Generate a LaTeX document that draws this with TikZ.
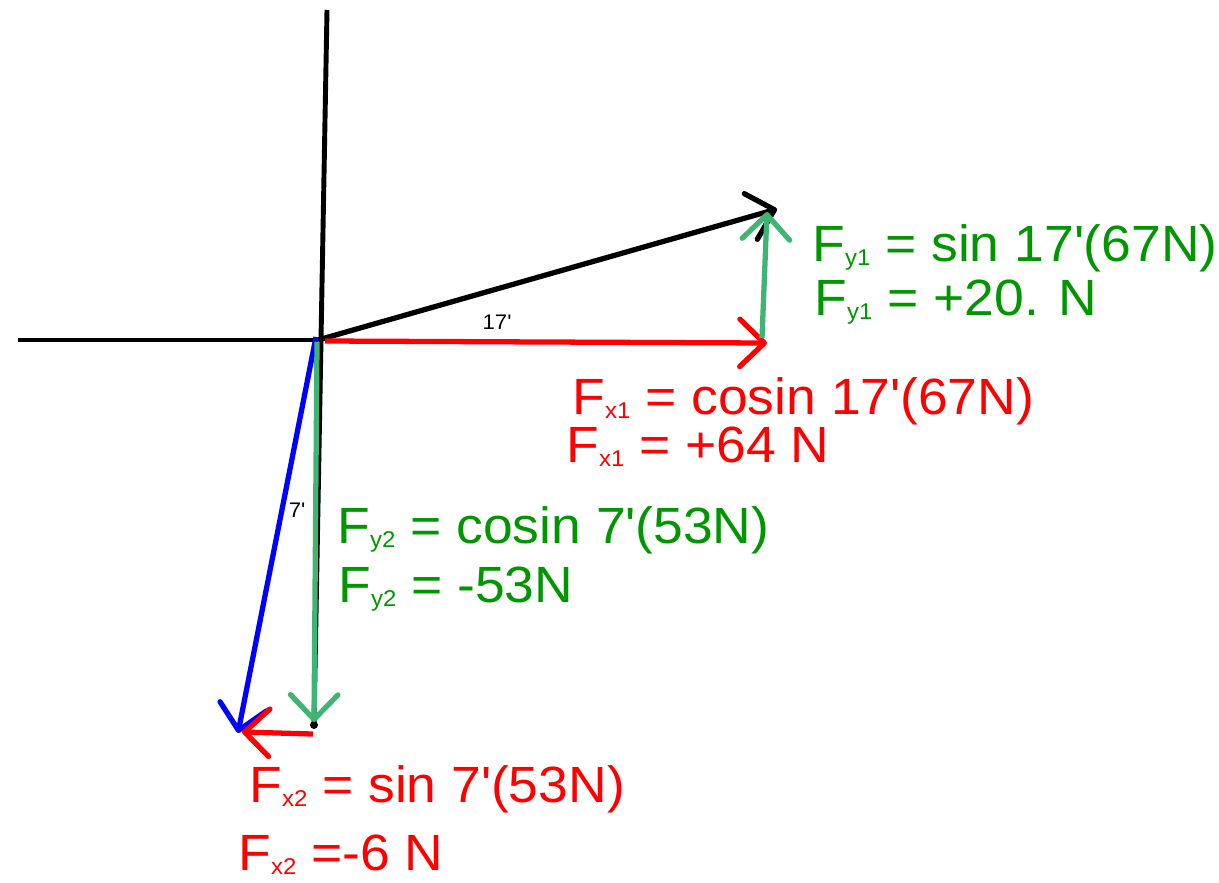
\documentclass[tikz,border=0pt]{standalone}
\usepackage{fontspec}
\setmainfont[FakeStretch=1.05]{Liberation Sans}
\usetikzlibrary{arrows.meta}
\definecolor{fgreen}{RGB}{0,150,0}
\definecolor{agreen}{RGB}{64,180,115}
\newcommand{\fsub}[1]{{\fontsize{13}{13}\selectfont\raisebox{-2.5pt}{#1}}}
\newcommand{\qt}{\textquotesingle}
\begin{document}
\begin{tikzpicture}[x=0.02cm,y=-0.02cm,
  axis/.style={line width=2.8pt},
  vec/.style={line width=3pt,-{Straight Barb[length=14pt,width=27pt,round]}},
  eq/.style={anchor=base west,inner sep=0pt,font=\fontsize{29}{33}\selectfont},
  angle/.style={inner sep=0pt,font=\fontsize{12}{14}\selectfont}]
\useasboundingbox (0,0) rectangle (1219,882);
\coordinate (O) at (318,340);
\coordinate (xL) at (18,340);
\coordinate (yT) at (327,10);
\coordinate (yB) at (314,725);
\coordinate (R1) at (777,209);
\coordinate (X1a) at (325,341);
\coordinate (X1b) at (767,343);
\coordinate (Y1a) at (762,338);
\coordinate (Y1b) at (767,212);
\coordinate (R2a) at (316,337);
\coordinate (R2b) at (238,733);
\coordinate (Y2a) at (317,342);
\coordinate (Y2b) at (314,722);
\coordinate (X2a) at (313,734);
\coordinate (X2b) at (242,732);
% axes
\draw[axis] (xL) -- (O);
\draw[axis] (yT) -- (yB);
\fill (yB) circle (4);
% first force
\draw[vec] (O) -- (R1);
\draw[vec,red] (X1a) -- (X1b);
\draw[vec,agreen] (Y1a) -- (Y1b);
% second force
\draw[vec,blue] (R2a) -- (R2b);
\draw[vec,agreen] (Y2a) -- (Y2b);
\draw[vec,red] (X2a) -- (X2b);
\node[angle] (a17) at (497,322) {17\qt};
\node[angle] (a7) at (297,510) {7\qt};
\node[eq,fgreen] (fy1a) at (812,261) {F\fsub{y1} = sin 17\qt(67N)};
\node[eq,fgreen] (fy1b) at (814,315) {F\fsub{y1} = +20. N};
\node[eq,red] (fx1a) at (572,414) {F\fsub{x1} = cosin 17\qt(67N)};
\node[eq,red] (fx1b) at (566,462) {F\fsub{x1} = +64 N};
\node[eq,fgreen] (fy2a) at (337,543) {F\fsub{y2} = cosin 7\qt(53N)};
\node[eq,fgreen] (fy2b) at (338,602) {F\fsub{y2} = -53N};
\node[eq,red] (fx2a) at (249,802) {F\fsub{x2} = sin 7\qt(53N)};
\node[eq,red] (fx2b) at (238,870) {F\fsub{x2} =-6 N};
\end{tikzpicture}
\end{document}
